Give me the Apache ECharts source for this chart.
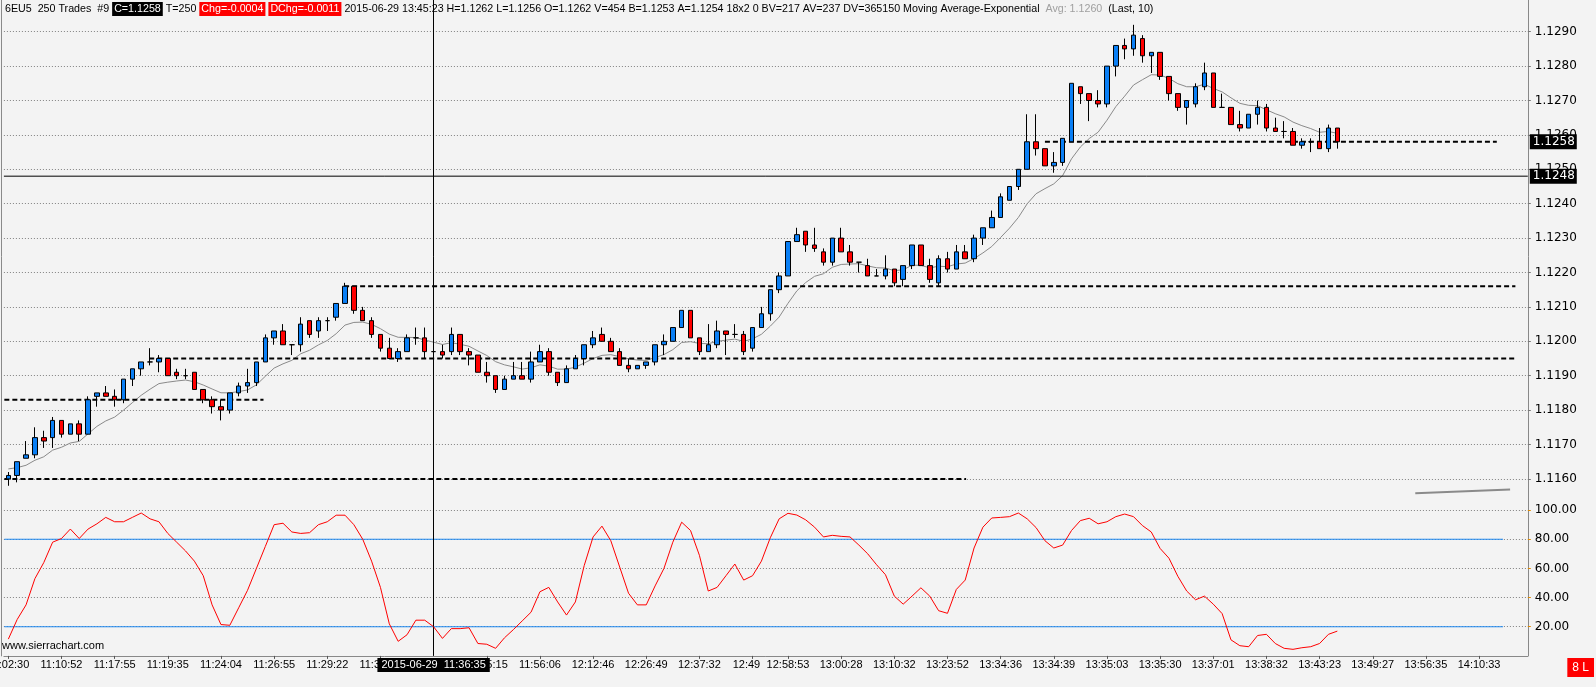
<!DOCTYPE html>
<html><head><meta charset="utf-8">
<script src="https://cdn.jsdelivr.net/npm/echarts@6/dist/echarts.min.js"></script>
<style>html,body{margin:0;padding:0;background:#f3f3f3;overflow:hidden}#c{width:1596px;height:687px}</style>
</head><body><div id="c"></div>
<script>
// ---- data ----
const opens = [1.1160,1.1161,1.1166,1.1167,1.1172,1.1172,1.1177,1.1173,1.1176,1.1173,
1.1184,1.1185,1.1184,1.1183,1.1189,1.1192,1.1194,1.1194,1.1195,1.1191,
1.1190,1.1191,1.1186,1.1183,1.1181,1.1180,1.1185,1.1187,1.1188,1.1194,
1.1201,1.1203,1.1199,1.1199,1.1206,1.1203,1.1206,1.1207,1.1211,1.1216,
1.1209,1.1206,1.1202,1.1198,1.1195,1.1197,1.1201,1.1201,1.1197,1.1197,
1.1197,1.1202,1.1197,1.1196,1.1191,1.1190,1.1186,1.1189,1.1190,1.1189,
1.1194,1.1197,1.1191,1.1188,1.1192,1.1195,1.1199,1.1202,1.1200,1.1197,
1.1193,1.1192,1.1193,1.1194,1.1199,1.1200,1.1204,1.1209,1.1201,1.1197,
1.1199,1.1203,1.1202,1.1202,1.1198,1.1204,1.1208,1.1215,1.1219,1.1229,
1.1232,1.1228,1.1226,1.1223,1.1230,1.1226,1.1223,1.1222,1.1219,1.1219,
1.1221,1.1218,1.1222,1.1228,1.1222,1.1217,1.1224,1.1221,1.1226,1.1224,
1.1230,1.1233,1.1236,1.1241,1.1245,1.1250,1.1258,1.1256,1.1251,1.1252,
1.1258,1.1274,1.1272,1.1270,1.1269,1.1280,1.1286,1.1285,1.1288,1.1283,
1.1284,1.1277,1.1272,1.1268,1.1269,1.1274,1.1278,1.1268,1.1268,1.1263,
1.1262,1.1266,1.1268,1.1262,1.1261,1.1261,1.1257,1.1258,1.1258,1.1256,
1.1262];
const highs = [1.1162,1.1165,1.1171,1.1175,1.1174,1.1178,1.1177,1.1176,1.1177,1.1184,
1.1185,1.1187,1.1186,1.1189,1.1192,1.1194,1.1198,1.1196,1.1195,1.1192,
1.1192,1.1191,1.1186,1.1184,1.1183,1.1185,1.1188,1.1192,1.1194,1.1202,
1.1203,1.1205,1.1199,1.1207,1.1206,1.1207,1.1207,1.1211,1.1217,1.1216,
1.1210,1.1207,1.1202,1.1201,1.1198,1.1202,1.1204,1.1204,1.1198,1.1199,
1.1204,1.1202,1.1198,1.1196,1.1194,1.1190,1.1190,1.1194,1.1194,1.1197,
1.1199,1.1198,1.1191,1.1193,1.1196,1.1199,1.1203,1.1204,1.1201,1.1198,
1.1195,1.1193,1.1194,1.1199,1.1202,1.1204,1.1209,1.1209,1.1201,1.1205,
1.1206,1.1203,1.1205,1.1203,1.1204,1.1210,1.1215,1.1220,1.1229,1.1233,
1.1232,1.1233,1.1227,1.1230,1.1233,1.1228,1.1223,1.1224,1.1221,1.1225,
1.1221,1.1222,1.1228,1.1228,1.1224,1.1225,1.1226,1.1228,1.1228,1.1231,
1.1233,1.1238,1.1243,1.1245,1.1250,1.1266,1.1266,1.1256,1.1255,1.1259,
1.1275,1.1274,1.1272,1.1273,1.1280,1.1286,1.1288,1.1292,1.1289,1.1284,
1.1284,1.1277,1.1272,1.1270,1.1275,1.1281,1.1278,1.1272,1.1268,1.1267,
1.1266,1.1270,1.1269,1.1265,1.1264,1.1262,1.1259,1.1259,1.1262,1.1263,
1.1262];
const lows = [1.1158,1.1159,1.1166,1.1166,1.1169,1.1169,1.1172,1.1173,1.1171,1.1173,
1.1181,1.1184,1.1181,1.1182,1.1187,1.1190,1.1193,1.1191,1.1190,1.1189,
1.1189,1.1186,1.1182,1.1179,1.1177,1.1179,1.1184,1.1185,1.1187,1.1194,
1.1199,1.1199,1.1196,1.1197,1.1201,1.1201,1.1203,1.1206,1.1211,1.1208,
1.1206,1.1201,1.1197,1.1195,1.1194,1.1197,1.1199,1.1195,1.1196,1.1195,
1.1196,1.1196,1.1193,1.1191,1.1188,1.1185,1.1186,1.1189,1.1189,1.1188,
1.1194,1.1190,1.1187,1.1188,1.1192,1.1193,1.1198,1.1200,1.1197,1.1193,
1.1191,1.1192,1.1192,1.1193,1.1196,1.1200,1.1204,1.1201,1.1196,1.1197,
1.1198,1.1196,1.1201,1.1196,1.1197,1.1204,1.1206,1.1214,1.1219,1.1229,
1.1226,1.1226,1.1222,1.1222,1.1226,1.1222,1.1220,1.1219,1.1219,1.1218,
1.1216,1.1216,1.1221,1.1222,1.1217,1.1216,1.1220,1.1221,1.1224,1.1223,
1.1228,1.1233,1.1236,1.1241,1.1244,1.1250,1.1254,1.1251,1.1249,1.1251,
1.1258,1.1269,1.1264,1.1268,1.1268,1.1277,1.1282,1.1283,1.1281,1.1278,
1.1276,1.1270,1.1267,1.1263,1.1268,1.1273,1.1268,1.1268,1.1263,1.1261,
1.1262,1.1263,1.1261,1.1261,1.1259,1.1257,1.1256,1.1255,1.1256,1.1255,
1.1256];
const closes = [1.1161,1.1165,1.1167,1.1172,1.1171,1.1177,1.1173,1.1176,1.1173,1.1183,
1.1185,1.1184,1.1183,1.1189,1.1192,1.1194,1.1194,1.1195,1.1190,1.1190,
1.1190,1.1186,1.1183,1.1181,1.1180,1.1185,1.1187,1.1188,1.1194,1.1201,
1.1203,1.1199,1.1199,1.1205,1.1202,1.1206,1.1206,1.1211,1.1216,1.1209,
1.1206,1.1202,1.1198,1.1195,1.1197,1.1201,1.1201,1.1197,1.1197,1.1196,
1.1202,1.1197,1.1196,1.1191,1.1190,1.1186,1.1189,1.1190,1.1189,1.1194,
1.1197,1.1191,1.1188,1.1192,1.1195,1.1199,1.1201,1.1200,1.1197,1.1193,
1.1192,1.1193,1.1194,1.1199,1.1200,1.1204,1.1209,1.1201,1.1197,1.1199,
1.1203,1.1202,1.1202,1.1197,1.1204,1.1208,1.1215,1.1219,1.1229,1.1231,
1.1228,1.1227,1.1223,1.1230,1.1226,1.1223,1.1223,1.1219,1.1219,1.1221,
1.1217,1.1222,1.1228,1.1222,1.1218,1.1224,1.1221,1.1226,1.1224,1.1230,
1.1233,1.1236,1.1242,1.1245,1.1250,1.1258,1.1256,1.1251,1.1252,1.1259,
1.1275,1.1272,1.1270,1.1269,1.1280,1.1286,1.1285,1.1289,1.1283,1.1284,
1.1277,1.1272,1.1268,1.1270,1.1274,1.1278,1.1268,1.1268,1.1263,1.1262,
1.1266,1.1268,1.1262,1.1261,1.1261,1.1257,1.1258,1.1258,1.1256,1.1262,
1.1258];
const stoch = [11.5,25,35,53,64,78,80.5,87,80.5,87,
90.6,95,92,92,95,98,94,92,84,78,
72,65,55,35,21.5,21,33,45,60,75,
90,91,85,84,84.5,90,92,96.5,96.5,90,
80,65,47,22,10,14.5,24.5,24.5,20,12,
18.7,18.7,19.3,8.5,8,5.2,12.4,18,24,30,
44,47,37,28,37,62,81.6,89,79,61,
43,35,35,48,60,78,91.7,86,69,44.5,
47,55,63,52,55,65,81,94,97.8,96.6,
93.3,88.3,81.6,82.7,82,81.6,76,70,62.5,55.7,
41,35.5,41,46.7,41,31,29.2,45.6,52,74,
88.3,94.6,95,95.5,98,94,88,79,74,76,
86,92.8,94.4,90.6,92,95.5,97.3,95.5,89.4,85,
73.7,67,54.6,44.5,38.5,41,35.5,29,11,7,
6.3,14,14.8,8.5,5.2,4.5,5.6,6.3,8.5,14.8,
17];
const emaPeriod = 10;
const emaSeed = 1.11629;          // MA value at the first visible bar
const slotCount = 172;            // bars + empty future slots
const tickIdx = [0,6,12,18,24,30,36,42,54,60,66,72,78,84,88,94,100,106,112,118,124,130,136,142,148,154,160,166];
const tickLabels = ['11:02:30','11:10:52','11:17:55','11:19:35','11:24:04','11:26:55','11:29:22','11:33:41','11:45:15','11:56:06','12:12:46','12:26:49','12:37:32','12:49    ','12:58:53','13:00:28','13:10:32','13:23:52','13:34:36','13:34:39','13:35:03','13:35:30','13:37:01','13:38:32','13:43:23','13:49:27','13:56:35','14:10:33'];
const levelPrices = [1.1160, 1.1183, 1.1195, 1.1216, 1.1258];
const levelFrom   = [-0.45, -0.45, 15.9, 37.9, 117];
const levelTo     = [108.1, 28.8, 170.1, 170.1, 168.0];
const grayLineX = [158.8, 169.5];
const grayLineY = [1.11558, 1.11569];
const stochLevels = [80, 20];
const stochLevelFrom = -0.45, stochLevelTo = 168.7;
const crossIdx = 48;
const crossLabel = '2015-06-29  11:36:35';
const lastPrice = 1.1258, linePrice = 1.1248;

// ---- chart ----
const FONT = 'Liberation Sans, Arial, sans-serif';
const AXFONT = 'DejaVu Sans, Verdana, sans-serif';
const BG = '#f3f3f3';
const cats = Array.from({length: slotCount}, (_, i) => String(i));
const candles = opens.map((o, i) => [o, closes[i], lows[i], highs[i]]);
const kk = 2 / (emaPeriod + 1);
const ema = []; let e = emaSeed;
closes.forEach((c, i) => { if (i > 0) e = e + kk * (c - e); ema.push(+e.toFixed(6)); });
const tickMap = {}; tickIdx.forEach((t, i) => tickMap[t] = tickLabels[i]);
const isTick = (i) => tickMap[i] !== undefined;
const boxLabel = (txt) => ({show: true, formatter: txt, color: '#fff', backgroundColor: '#000',
  padding: [2, 2, 1, 3], fontSize: 12, fontFamily: AXFONT, distance: 2});

const series = [];
series.push({
  type: 'candlestick', xAxisIndex: 0, yAxisIndex: 0, data: candles, barWidth: 5, z: 5,
  itemStyle: {color: '#0a7ff5', color0: '#ff0000', borderColor: '#000', borderColor0: '#000', borderWidth: 1},
  markLine: {symbol: 'none', silent: true, animation: false,
    data: [{xAxis: crossIdx, lineStyle: {color: '#000', width: 1, type: 'solid'}, label: {show: false}}]}
});
series.push({type: 'line', xAxisIndex: 0, yAxisIndex: 0, data: ema, symbol: 'none', lineStyle: {color: '#8a8a8a', width: 1}, z: 3});
levelPrices.forEach((p, i) => series.push({
  type: 'line', xAxisIndex: 1, yAxisIndex: 0, symbol: 'none', z: 4,
  data: [[levelFrom[i], p], [levelTo[i], p]],
  lineStyle: {color: '#000', width: 2, type: [5, 3]}
}));
series.push({type: 'line', xAxisIndex: 1, yAxisIndex: 0, symbol: 'none', z: 6,
  data: [[-0.5, linePrice], [slotCount - 0.5, linePrice]], lineStyle: {color: '#000', width: 1},
  endLabel: boxLabel(linePrice.toFixed(4))});
series.push({type: 'line', xAxisIndex: 1, yAxisIndex: 0, symbol: 'none', z: 6,
  data: [[slotCount - 0.6, lastPrice], [slotCount - 0.5, lastPrice]], lineStyle: {opacity: 0},
  endLabel: boxLabel(lastPrice.toFixed(4))});
series.push({type: 'line', xAxisIndex: 1, yAxisIndex: 0, symbol: 'none',
  data: grayLineX.map((x, i) => [x, grayLineY[i]]), lineStyle: {color: '#8a8a8a', width: 2}});
series.push({
  type: 'line', xAxisIndex: 2, yAxisIndex: 1, data: stoch, symbol: 'none', z: 5,
  lineStyle: {color: '#ff0000', width: 1},
  markLine: {symbol: 'none', silent: true, animation: false,
    data: [{xAxis: crossIdx, lineStyle: {color: '#000', width: 1, type: 'solid'},
      label: {show: true, position: 'start', formatter: crossLabel, color: '#fff', backgroundColor: '#000', padding: [2,4,1,4], fontSize: 11, fontFamily: FONT, distance: 2}}]}
});
stochLevels.forEach(v => series.push({
  type: 'line', xAxisIndex: 3, yAxisIndex: 1, symbol: 'none', z: 4,
  data: [[stochLevelFrom, v], [stochLevelTo, v]], lineStyle: {color: '#1e88f0', width: 1.2}
}));

const leftLine = (g) => ({type: 'value', gridIndex: g, position: 'left', offset: 3, min: 0, max: 1,
  axisLine: {show: true, onZero: false, lineStyle: {color: '#8a8a8a'}},
  axisTick: {show: false}, axisLabel: {show: false}, splitLine: {show: false}});

const option = {
  animation: false,
  backgroundColor: BG,
  textStyle: {fontFamily: FONT},
  title: {
    left: 0, top: -3,
    text: '6EU5  250 Trades  #9 {k|C=1.1258} T=250 {r|Chg=-0.0004} {r|DChg=-0.0011} 2015-06-29 13:45:23 H=1.1262 L=1.1256 O=1.1262 V=454 B=1.1253 A=1.1254 18x2 0 BV=217 AV=237 DV=365150 Moving Average-Exponential  {g|Avg: 1.1260}  (Last, 10)',
    textStyle: {fontFamily: FONT, fontSize: 10.7, fontWeight: 'normal', color: '#000',
      rich: {
        k: {backgroundColor: '#000', color: '#fff', padding: [2,2,1,2], fontSize: 10.7, fontFamily: FONT},
        r: {backgroundColor: '#ff0000', color: '#fff', padding: [2,2,1,2], fontSize: 10.7, fontFamily: FONT},
        g: {color: '#a0a0a0', fontSize: 10.7, fontFamily: FONT}
      }}
  },
  grid: [
    {left: 3.9, right: 68.2, top: -2.7, bottom: 173.7, containLabel: false, outerBoundsMode: 'none'},
    {left: 3.9, right: 68.2, top: 510.1, bottom: 31.1, containLabel: false, outerBoundsMode: 'none'}
  ],
  xAxis: [
    {type: 'category', gridIndex: 0, data: cats, show: false},
    {type: 'value', gridIndex: 0, min: -0.5, max: slotCount - 0.5, show: false},
    {type: 'category', gridIndex: 1, data: cats, position: 'bottom',
      axisLine: {onZero: false, lineStyle: {color: '#888'}},
      axisTick: {show: true, interval: (i) => isTick(i), alignWithLabel: true, length: 3, lineStyle: {color: '#555'}},
      axisLabel: {interval: (i) => isTick(i), formatter: (v, i) => tickMap[i] || '', color: '#000', fontSize: 11, fontFamily: FONT, margin: 4},
      splitLine: {show: false}},
    {type: 'value', gridIndex: 1, min: -0.5, max: slotCount - 0.5, show: false, position: 'top'}
  ],
  yAxis: [
    {type: 'value', gridIndex: 0, position: 'right', min: 1.115, max: 1.13, interval: 0.001,
      axisLine: {show: true, onZero: false, lineStyle: {color: '#888'}},
      axisTick: {show: true, length: 3, lineStyle: {color: '#777'}},
      axisLabel: {formatter: (v) => v.toFixed(4), color: '#000', fontSize: 12, fontFamily: AXFONT, margin: 7, showMinLabel: false, showMaxLabel: false},
      splitLine: {show: true, showMinLine: false, showMaxLine: false, lineStyle: {color: '#808080', type: [1, 2], width: 1}}},
    {type: 'value', gridIndex: 1, position: 'right', min: 0, max: 100, interval: 20,
      axisLine: {show: true, onZero: false, lineStyle: {color: '#888'}},
      axisTick: {show: true, length: 3, lineStyle: {color: '#e08a00'}},
      axisLabel: {formatter: (v) => v.toFixed(2), color: '#000', fontSize: 12, fontFamily: AXFONT, margin: 7, showMinLabel: false},
      splitLine: {show: true, showMinLine: false, lineStyle: {color: '#808080', type: [1, 2], width: 1}}},
    leftLine(0), leftLine(1)
  ],
  graphic: [
    {type: 'text', left: 2, top: 640, style: {text: 'www.sierrachart.com', fill: '#000', font: '11px ' + FONT}},
    {type: 'text', right: 2, bottom: 10, style: {text: '8 L', fill: '#fff', backgroundColor: '#ff0000', padding: [4,5,3,5], font: '12px ' + FONT}}
  ],
  series: series
};
const chart = echarts.init(document.getElementById('c'));
chart.setOption(option);
</script>
</body></html>
